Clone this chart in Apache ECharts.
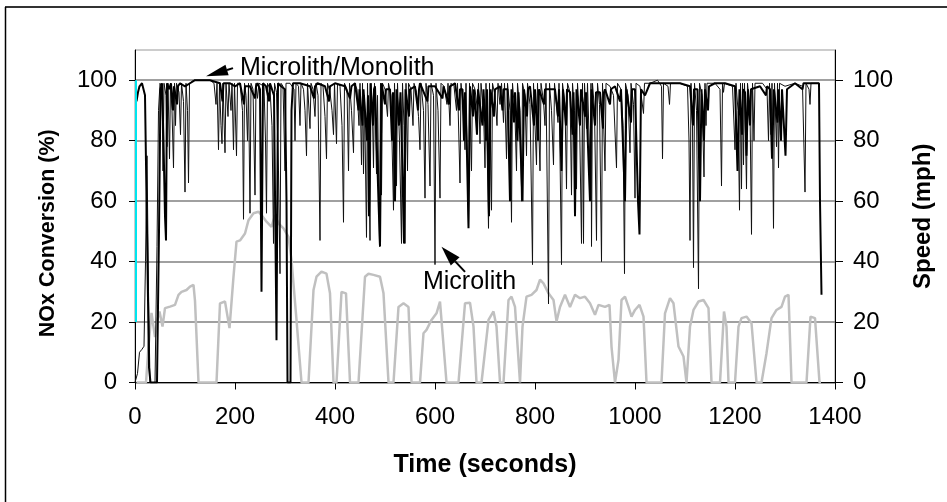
<!DOCTYPE html>
<html>
<head>
<meta charset="utf-8">
<script src="https://cdn.jsdelivr.net/npm/echarts@6/dist/echarts.min.js"></script>
<style>
html,body{margin:0;padding:0;background:#fff;}
#main{width:947px;height:502px;}
</style>
</head>
<body>
<div id="main"></div>
<script>
// tick values
var xTicks = [0, 200, 400, 600, 800, 1000, 1200, 1400];
var yTicks = [0, 20, 40, 60, 80, 100];

// vehicle speed, mph  [time s, speed]
var speedData = [[3,0],[22,0],[27,12],[33,23],[40,15],[45,21],[49,23.5],[55,18.5],[60,24.6],[70,25.1],[80,25.7],[87,29],[93,30],[103,30.6],[110,31.7],[117,32.3],[120,27],[127,0],[163,0],[170,26.2],[180,26.8],[189,18],[197,35],[203,46.6],[210,47],[220,49.3],[227,53.7],[237,56],[247,56.5],[253,55.4],[263,53.2],[273,51.5],[280,55.4],[287,52.6],[297,51],[307,48.2],[313,40.5],[323,20.7],[333,0],[347,0],[357,30.6],[363,35],[373,36.7],[383,36],[390,29.5],[397,0],[403,0],[413,30],[422,29.5],[430,0],[447,0],[460,35],[467,36],[477,35.6],[490,35],[497,29.5],[507,0],[517,0],[527,25],[537,26.2],[547,25],[553,0],[570,0],[577,16.3],[583,17.4],[593,20.7],[603,22.9],[610,26.8],[623,0],[647,0],[660,26.2],[670,26.4],[677,18.5],[683,0],[693,0],[707,20.7],[717,23.5],[723,18.5],[730,0],[737,0],[747,27.3],[753,28.4],[760,25],[770,0],[775,18.5],[783,28.4],[793,29],[803,30.6],[810,34],[817,32.8],[827,29.5],[837,27.3],[843,20.2],[850,25],[860,29],[870,25],[880,29],[890,27.9],[900,28.4],[910,26.2],[920,22.4],[927,25.7],[940,25],[949,25.7],[953,11.9],[960,0],[967,7.5],[973,27.3],[980,28.4],[987,25],[993,21.8],[1000,24],[1009,25.7],[1017,21.8],[1023,0],[1053,0],[1060,22.9],[1070,27.9],[1077,26.2],[1087,11.9],[1097,8.6],[1103,0],[1110,18.5],[1117,24],[1127,26.8],[1137,27.3],[1147,24.6],[1153,0],[1170,0],[1178,23.5],[1183,18.5],[1187,0],[1200,0],[1207,18.5],[1213,21.3],[1223,21.8],[1233,19.6],[1243,0],[1253,0],[1263,9.7],[1273,21.3],[1283,24],[1293,25],[1300,28.4],[1307,29],[1313,0],[1343,0],[1351,21.8],[1360,21.3],[1369,0],[1372,0]];

// NOx conversion, microlith only  [time s, %]
var microlithData = [[0,0],[5,3],[9,10],[14,11],[18,12],[21,40],[24,75],[27,30],[30,0],[40,0],[44,45],[47,90],[50,99],
[54,97],[56,70],[58,99],[62,95],[64,78],[66,99],[69,74],[71,99],[74,90],[77,71],[79,99],[81,85],[83,99],[88,96],[91,82],[93,99],[97,93],[100,63],[102,99],[105,90],[107,66],[109,99],[113,99],[118,100],[150,100],[158,99],
[162,92],[164,99],[167,77],[169,99],[172,85],[174,79],[176,99],[180,76],[182,99],[186,88],[188,99],[192,90],[194,99],[197,77],[199,99],[203,75],[205,99],[210,99],[215,90],[217,54],[219,99],[222,95],[225,80],[227,99],[230,56],[232,99],[236,97],[240,62],[242,99],[245,94],[248,99],[258,98],[261,80],[263,56],[265,99],[270,97],[274,85],[277,46],[279,99],[283,96],[287,70],[290,36],[292,99],[296,98],[300,70],[302,99],[310,99],[318,97],[320,80],[322,99],[327,98],[330,85],[332,99],[337,97],[340,90],[343,75],[345,99],[350,84],[352,99],[356,97],[360,88],[362,99],[366,95],[370,47],[372,99],[376,98],[380,88],[383,74],[385,99],[390,96],[394,90],[397,82],[399,99],[403,79],[405,99],[410,98],[414,85],[417,53],[419,99],[424,97],[427,70],[429,99],[433,90],[437,76],[439,99],
[444,97],[448,85],[450,99],[453,72],[455,99],[457,69],[459,95],[463,48],[465,99],[467,80],[470,47],[472,99],[475,88],[477,71],[479,99],[483,69],[485,95],[489,45],[491,99],[493,62],[495,99],[500,97],[505,88],[507,99],[512,95],[517,57],[519,99],[523,65],[525,99],[529,80],[533,46],[535,99],[538,85],[540,46],[542,99],[545,70],[547,99],[552,97],[556,85],[558,99],[563,96],[567,88],[570,77],[572,99],[577,90],[580,61],[582,99],[586,92],[590,65],[592,99],[597,95],[600,39],[602,99],[606,90],[610,61],[612,99],[618,98],[624,92],[626,99],[630,85],[632,99],[638,98],[643,90],[645,99],[650,66],[652,99],[656,92],[660,77],[662,99],[667,52],[669,99],[673,70],[675,99],[680,97],[685,90],[687,99],[690,79],[692,99],[697,90],[700,71],[702,99],[707,51],[709,99],[713,57],[715,99],[720,95],[724,85],[726,99],[730,92],[733,99],[737,86],[739,99],[743,74],[745,99],[750,90],[753,53],[755,99],[760,88],[763,70],[765,99],[770,90],[773,60],[775,99],[780,95],[783,75],[785,99],[790,92],[795,39],[797,99],[800,85],[803,72],[805,99],[810,70],[812,99],[817,93],[820,85],[822,99],[827,26],[829,99],[833,90],[837,72],[839,99],[843,92],[846,86],[848,99],[853,39],[855,99],[860,92],[863,64],[865,99],[870,96],[873,62],[875,99],[879,90],[883,64],[885,99],[889,88],[893,46],[895,99],[897,46],[899,99],[903,84],[905,99],[910,71],[912,99],[913,45],[915,99],[919,90],[923,47],[925,99],[929,92],[933,40],[935,99],[940,70],[942,99],[950,98],[957,95],[963,71],[965,99],[972,97],[976,85],[979,36],[981,99],[986,95],[990,76],[992,99],[997,92],[1000,61],[1002,99],[1010,98],[1017,89],[1019,99],[1030,99],[1045,100],[1053,98],[1055,74],[1057,99],[1066,98],[1069,92],[1071,99],[1090,99],[1105,98],[1108,80],[1110,47],[1112,99],[1115,85],[1117,38],[1119,99],[1123,90],[1127,31],[1129,99],[1134,95],[1138,68],[1140,99],[1142,85],[1144,99],[1160,99],[1170,97],[1173,65],[1175,99],[1177,96],[1179,99],[1195,98],[1200,77],[1202,99],[1206,90],[1209,57],[1211,99],[1213,64],[1215,99],[1217,72],[1219,99],[1223,64],[1225,99],[1230,90],[1233,49],[1235,99],[1238,80],[1240,99],[1255,99],[1264,97],[1267,80],[1269,99],[1272,82],[1274,99],[1277,51],[1279,99],[1283,78],[1285,99],[1287,71],[1289,99],[1300,98],[1320,99],[1335,98],[1340,63],[1342,99],[1348,97],[1350,92],[1352,99],[1368,99]];

// NOx conversion, microlith + monolith  [time s, %]
var monolithData = [[3,93],[6,96],[9,98],[14,99],[18,99],[20,95],[24,50],[28,5],[31,0],[44,0],[48,50],[51,97],[54,99],[57,80],[60,55],[62,47],[64,99],[68,97],[72,99],[76,90],[78,98],[84,92],[86,98],[90,99],[100,98],[110,99],[120,100],[150,100],[170,99],[175,93],[177,99],[190,99],[200,98],[210,99],[218,92],[220,98],[230,98],[240,94],[242,98],[245,99],[250,97],[253,30],[256,99],[262,98],[268,93],[270,99],[278,95],[283,14],[286,99],[292,98],[300,97],[303,60],[305,0],[311,0],[313,90],[316,99],[330,99],[350,98],[358,94],[360,98],[365,99],[380,98],[388,93],[390,98],[400,99],[420,98],[430,94],[433,98],[440,99],[447,90],[449,97],[455,85],[457,97],[460,97],[464,80],[466,95],[468,55],[471,99],[476,85],[478,97],[480,98],[487,60],[490,45],[493,99],[500,92],[502,97],[510,97],[514,80],[516,96],[520,60],[523,97],[528,85],[531,96],[535,70],[538,46],[541,97],[548,88],[550,97],[560,98],[566,90],[568,97],[570,99],[585,93],[587,98],[600,98],[615,94],[617,98],[628,92],[630,98],[640,99],[648,90],[650,97],[655,97],[658,80],[660,96],[664,75],[667,51],[670,98],[676,88],[678,97],[684,82],[686,97],[690,97],[695,85],[697,97],[702,80],[704,97],[708,55],[711,97],[718,88],[720,97],[730,98],[735,90],[737,97],[745,97],[750,60],[753,97],[758,86],[760,96],[765,80],[767,96],[770,96],[775,60],[778,97],[784,88],[786,97],[790,98],[798,85],[800,97],[806,80],[808,97],[810,97],[818,92],[820,97],[840,97],[846,88],[848,97],[853,70],[856,97],[862,85],[864,97],[870,96],[875,82],[877,96],[880,55],[883,97],[890,85],[892,97],[900,88],[902,96],[905,96],[910,60],[913,97],[920,85],[922,96],[930,96],[936,84],[938,96],[940,97],[950,92],[952,97],[960,98],[970,93],[972,97],[975,97],[980,60],[983,97],[992,86],[994,97],[1000,97],[1006,60],[1009,49],[1012,97],[1020,95],[1030,99],[1060,99],[1090,99],[1110,98],[1116,85],[1118,97],[1125,97],[1130,60],[1133,97],[1138,80],[1140,97],[1146,90],[1148,98],[1160,99],[1180,99],[1200,98],[1205,70],[1209,97],[1214,82],[1216,97],[1220,96],[1223,75],[1226,97],[1230,85],[1232,97],[1250,98],[1262,95],[1264,98],[1270,97],[1274,74],[1278,97],[1285,86],[1287,97],[1292,80],[1294,97],[1298,97],[1301,75],[1304,97],[1320,99],[1335,97],[1337,99],[1350,99],[1368,99],[1370,60],[1373,29]];

// start marker
var startData = [[2,20],[2,100]];

var FONT = 'Liberation Sans, Arial, sans-serif';

var chart = echarts.init(document.getElementById('main'), null, {renderer: 'canvas'});

option = {
    animation: false,
    backgroundColor: '#fff',
    grid: {
        left: 135, right: 112, top: 50, bottom: 119.5,
        show: true, borderColor: '#999', borderWidth: 1
    },
    xAxis: {
        type: 'value', min: 0, max: 1400, interval: 200,
        name: 'Time (seconds)', nameLocation: 'middle', nameGap: 70,
        nameTextStyle: {fontFamily: FONT, fontSize: 25, fontWeight: 'bold', color: '#000'},
        axisLine: {show: true, onZero: false, lineStyle: {color: '#000', width: 1}},
        axisTick: {show: true, length: 7, lineStyle: {color: '#000'}},
        axisLabel: {color: '#000', fontFamily: FONT, fontSize: 24, margin: 23,
            formatter: function (v) { return String(v); }},
        splitLine: {show: false}
    },
    yAxis: [{
        type: 'value', min: 0, max: 110, interval: 20, position: 'left',
        name: 'NOx Conversion (%)', nameLocation: 'middle', nameGap: 76,
        // title sits a little below the middle of the axis
        nameTextStyle: {fontFamily: FONT, fontSize: 21.5, fontWeight: 'bold', color: '#000', padding: [0, 34, 0, 0]},
        axisLine: {show: true, lineStyle: {color: '#000', width: 1}},
        axisTick: {show: true, length: 6, lineStyle: {color: '#000'}, customValues: yTicks},
        axisLabel: {color: '#000', fontFamily: FONT, fontSize: 24, margin: 18, customValues: yTicks,
            formatter: function (v) { return v > 100 ? '' : String(v); }},
        splitLine: {show: true, lineStyle: {color: '#808080', width: 1.5}}
    }, {
        type: 'value', min: 0, max: 110, interval: 20, position: 'right',
        name: 'Speed (mph)', nameLocation: 'middle', nameGap: 76,
        nameTextStyle: {fontFamily: FONT, fontSize: 24, fontWeight: 'bold', color: '#000'},
        axisLine: {show: true, lineStyle: {color: '#000', width: 1}},
        axisTick: {show: true, length: 8, lineStyle: {color: '#000'}, customValues: yTicks},
        axisLabel: {color: '#000', fontFamily: FONT, fontSize: 24, margin: 18, customValues: yTicks,
            formatter: function (v) { return v > 100 ? '' : String(v); }},
        splitLine: {show: false}
    }],
    series: [{
        name: 'Speed', type: 'line', yAxisIndex: 1, z: 2,
        showSymbol: false, symbol: 'none',
        lineStyle: {color: '#c0c0c0', width: 2.5},
        data: speedData
    }, {
        name: 'Microlith', type: 'line', z: 3,
        showSymbol: false, symbol: 'none',
        lineStyle: {color: '#111', width: 1},
        data: microlithData
    }, {
        name: 'Microlith/Monolith', type: 'line', z: 4,
        showSymbol: false, symbol: 'none',
        lineStyle: {color: '#000', width: 2},
        data: monolithData
    }, {
        name: 'start', type: 'line', z: 5,
        showSymbol: false, symbol: 'none',
        lineStyle: {color: '#00e5ee', width: 2},
        data: startData
    }]
};
chart.setOption(option);

// annotations: arrows and labels placed in data units
function px(p) { return chart.convertToPixel({xAxisIndex: 0, yAxisIndex: 0}, p); }
function arrow(tail, tip, headLen, headW) {
    var a = px(tail), b = px(tip);
    var dx = b[0] - a[0], dy = b[1] - a[1];
    var L = Math.sqrt(dx * dx + dy * dy);
    var ux = dx / L, uy = dy / L;
    var bx = b[0] - ux * headLen, by = b[1] - uy * headLen;
    return [{
        type: 'line', z: 100,
        shape: {x1: a[0], y1: a[1], x2: bx, y2: by},
        style: {stroke: '#000', lineWidth: 2}
    }, {
        type: 'polygon', z: 100,
        shape: {points: [[b[0], b[1]], [bx - uy * headW, by + ux * headW], [bx + uy * headW, by - ux * headW]]},
        style: {fill: '#000'}
    }];
}
var t1 = px([210, 104]), t2 = px([669, 33.2]);
var g = [];
g = g.concat(arrow([196, 104], [142, 101.3], 22, 5.5));
g = g.concat(arrow([660, 36.6], [613, 44.9], 20, 6));
g.push({type: 'text', z: 100, x: t1[0], y: t1[1],
    style: {text: 'Microlith/Monolith', font: '25px ' + FONT, fill: '#000', textAlign: 'left', textVerticalAlign: 'middle'}});
g.push({type: 'text', z: 100, x: t2[0], y: t2[1],
    style: {text: 'Microlith', font: '25px ' + FONT, fill: '#000', textAlign: 'center', textVerticalAlign: 'middle'}});
// outer frame (top and left edges)
g.push({type: 'line', shape: {x1: 5, y1: 7, x2: 947, y2: 7}, style: {stroke: '#333', lineWidth: 2}});
g.push({type: 'line', shape: {x1: 5.5, y1: 7, x2: 5.5, y2: 502}, style: {stroke: '#000', lineWidth: 1.5}});
chart.setOption({graphic: g});

window.onresize = function () { chart.resize(); };
</script>
</body>
</html>
